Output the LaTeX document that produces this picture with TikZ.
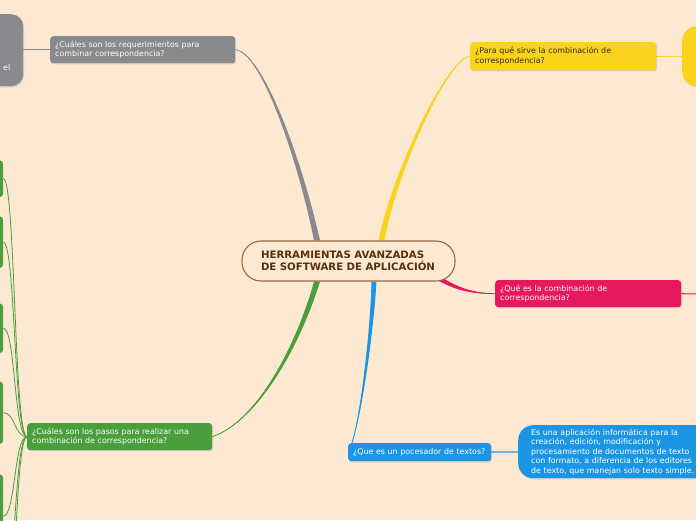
\documentclass[tikz,border=0pt]{standalone}
\usepackage{fontspec}
\setmainfont{DejaVu Sans}
\usetikzlibrary{calc,shadows}
\definecolor{bgc}{RGB}{253,232,210}
\definecolor{qgray}{RGB}{137,138,142}
\definecolor{qyellow}{RGB}{249,211,28}
\definecolor{qpink}{RGB}{232,24,93}
\definecolor{qblue}{RGB}{27,150,228}
\definecolor{qlblue}{RGB}{110,180,230}
\definecolor{qgreen}{RGB}{74,158,60}
\definecolor{qbrown}{RGB}{150,105,60}
\definecolor{qbrtext}{RGB}{90,48,12}
\definecolor{qdark}{RGB}{55,42,5}
\pgfdeclarelayer{back}\pgfdeclarelayer{conn}\pgfsetlayers{back,conn,main}
\newcommand\taper[6]{%
  \fill[#1] (#2) .. controls ($(#3)+0.33*(#6)$) and ($(#4)+0.67*(#6)$) .. ($(#5)+(#6)$)
     -- ($(#5)-(#6)$) .. controls ($(#4)-0.67*(#6)$) and ($(#3)-0.33*(#6)$) .. (#2) -- cycle;
  \draw[#1,line width=0.8pt] (#2) .. controls (#3) and (#4) .. (#5);}
\begin{document}
\begin{tikzpicture}[x=1pt,y=-1pt,
  qbox/.style={rounded corners=3pt, anchor=north west, inner xsep=5pt, inner ysep=2pt,
    align=left, text=white, font=\fontsize{7.9}{9.5}\selectfont,
    drop shadow={opacity=0.25,shadow xshift=0.8pt,shadow yshift=-1.2pt}},
  bigbox/.style={rounded corners=15pt, anchor=north west, inner sep=0pt,
    drop shadow={opacity=0.25,shadow xshift=0.8pt,shadow yshift=-1.2pt}},
  gbox/.style={rounded corners=4pt, anchor=north west, inner sep=0pt, fill=qgreen, minimum width=43pt},
  gline/.style={qgreen, line width=0.8pt}]
\begin{pgfonlayer}{back}
\fill[bgc] (0,0) rectangle (696,520);
\end{pgfonlayer}
\useasboundingbox (0,0) rectangle (696,520);

% central node
\node[draw=qbrown, line width=1.1pt, fill=bgc, rounded corners=19pt, minimum width=213pt,
  minimum height=40pt, text width=175pt, inner xsep=19pt, align=left, text=qbrtext,
  font=\bfseries\fontsize{10.2}{12}\selectfont] (center) at (348.5,261)
  {HERRAMIENTAS AVANZADAS\\DE SOFTWARE DE APLICACIÓN};

% gray branch
\node[qbox, fill=qgray, minimum width=185pt, minimum height=27pt, text width=175pt] (gray) at (50,36)
  {¿Cuáles son los requerimientos para\\combinar correspondencia?};
\node[bigbox, fill=qgray, minimum width=63pt, minimum height=72pt, rounded corners=12pt] (graybig) at (-40,14) {};
\node[anchor=west, inner sep=0pt, text=white, font=\fontsize{7.9}{9.5}\selectfont] (elt) at (3,68) {el};

% yellow branch
\node[qbox, fill=qyellow, text=qdark, minimum width=186pt, minimum height=28pt, text width=176pt] (yellow) at (470,42)
  {¿Para qué sirve la combinación de\\correspondencia?};
\node[bigbox, fill=qyellow, minimum width=90pt, minimum height=60pt] (yellowbig) at (682,26) {};

% pink branch
\node[qbox, fill=qpink, minimum width=186pt, minimum height=27pt, text width=176pt] (pink) at (495,280)
  {¿Qué es la combinación de\\correspondencia?};
\coordinate (pinkout) at (700,294);

% blue branch
\node[qbox, fill=qblue, minimum width=143pt, minimum height=18pt, text width=133pt] (blue) at (348,443)
  {¿Que es un pocesador de textos?};
\node[bigbox, fill=qblue, minimum width=252pt, minimum height=53pt, text width=226pt, inner xsep=13pt,
  align=left, text=white, font=\fontsize{7.9}{9.5}\selectfont] (bluebig) at (518,425)
  {Es una aplicación informática para la\\creación, edición, modificación y\\procesamiento de documentos de texto\\con formato, a diferencia de los editores\\de texto, que manejan solo texto simple.};

% green branch
\node[qbox, fill=qgreen, minimum width=185pt, minimum height=27pt, text width=175pt] (green) at (27,423)
  {¿Cuáles son los pasos para realizar una\\combinación de correspondencia?};
\node[gbox, minimum height=37pt] (g1) at (-40,160) {};
\node[gbox, minimum height=52pt] (g2) at (-40,216) {};
\node[gbox, minimum height=50pt] (g3) at (-40,303) {};
\node[gbox, minimum height=63pt] (g4) at (-40,381) {};
\node[gbox, minimum height=84pt] (g5) at (-40,474) {};
\node[gbox, minimum height=60pt] (g6) at (-40,570) {};
\node[gbox, minimum height=60pt] (g7) at (-40,640) {};

% attachment points on the central node
\coordinate (cg) at ($(center.north)+(-31.5,0)$);
\coordinate (cy) at ($(center.north)+(33,0)$);
\coordinate (cgr) at ($(center.south)+(-31.5,0)$);
\coordinate (cb) at ($(center.south)+(25.5,0)$);
\coordinate (cp) at ($(center.south east)+(-16,-3)$);
\coordinate (bt) at ($(blue.north west)+(4,0)$);

\begin{pgfonlayer}{conn}
\taper{qgray}{gray.east}{262,52}{300,160}{cg}{3,0}
\taper{qyellow}{yellow.west}{448,58}{395,170}{cy}{3,0}
\taper{qpink}{pink.west}{475,293.5}{458,290}{cp}{1.2,-2}
\taper{qblue}{bt}{362,410}{372,330}{cb}{2.5,0}
\taper{qgreen}{green.east}{260,420}{300,340}{cgr}{3,0}
\draw[qgray, line width=1pt] (gray.west) -- (gray.west -| graybig.east);
\draw[qyellow, line width=1pt] (yellow.east) -- (yellow.east -| yellowbig.west);
\draw[qpink, line width=1pt] (pink.east) -- (pinkout);
\draw[qlblue, line width=2pt] (blue.east) -- (blue.east -| bluebig.west);
\foreach \g in {g1,g2,g3,g4,g5,g6,g7}
  \draw[gline] (green.west) .. controls +(-13,0) and +(12,0) .. (\g.east);
\end{pgfonlayer}
\end{tikzpicture}
\end{document}
